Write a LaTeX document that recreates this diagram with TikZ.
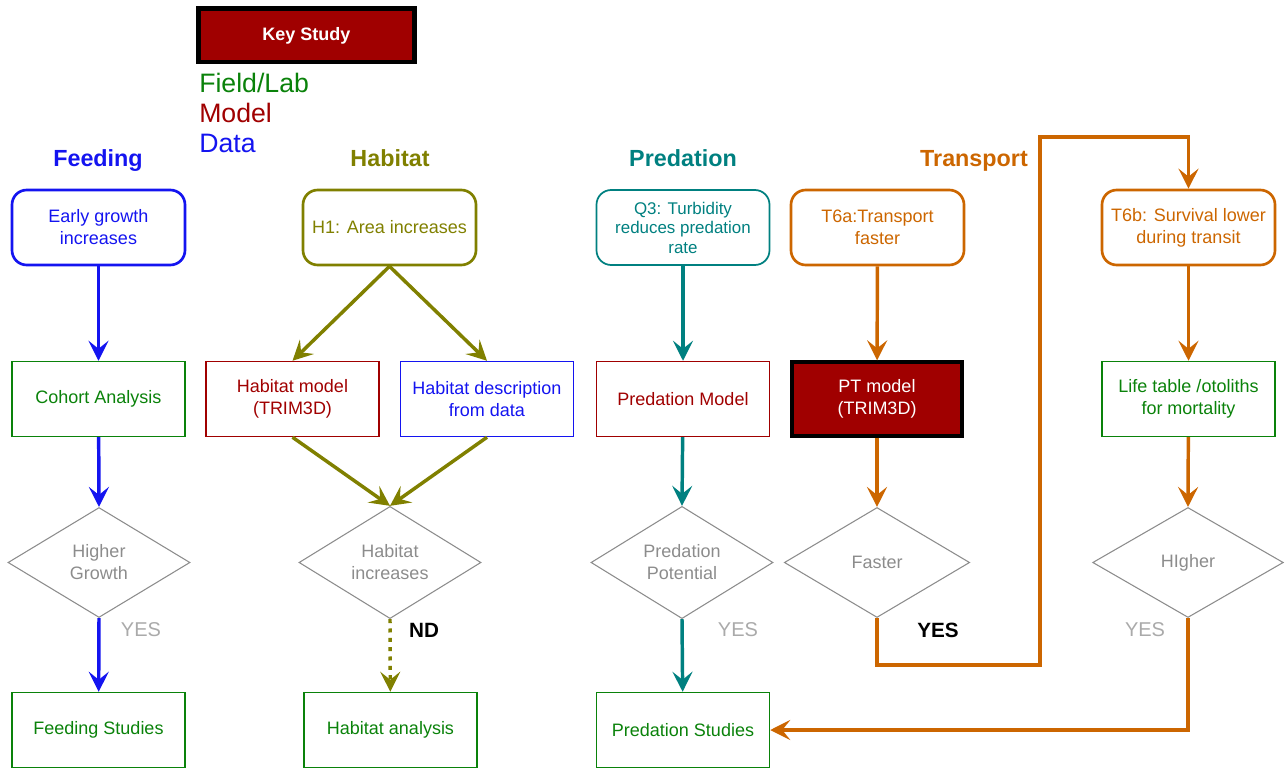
\documentclass[tikz,border=0pt]{standalone}
\usepackage{fontspec}
\setmainfont{Liberation Sans}
\usetikzlibrary{shapes.geometric,arrows.meta}
\definecolor{fblue}{RGB}{20,20,240}
\definecolor{olivec}{RGB}{128,128,0}
\definecolor{tealc}{RGB}{0,128,128}
\definecolor{orangec}{RGB}{204,102,0}
\definecolor{dred}{RGB}{160,0,0}
\definecolor{fgreen}{RGB}{10,130,10}
\definecolor{dgray}{RGB}{140,140,140}
\definecolor{lgray}{RGB}{170,170,170}
\tikzset{
  txt/.style={font=\fontsize{13.5}{16.5}\selectfont, align=center},
  rbox/.style={txt, draw=#1, text=#1, rounded corners=11pt, line width=2pt, minimum width=129.75pt, minimum height=56.25pt, inner sep=2pt},
  sbox/.style={txt, draw=#1, line width=1.1pt, minimum width=129.75pt, minimum height=56.25pt, inner sep=2pt},
  dec/.style={txt, diamond, draw=dgray, text=dgray, line width=0.8pt, minimum width=136.5pt, minimum height=82.5pt, inner sep=0pt},
  con/.style={draw=#1, line width=2.6pt, -{Stealth[length=15pt, width=15pt, inset=6pt]}},
  head/.style={font=\fontsize{17.5}{20}\selectfont\bfseries, text=#1, anchor=base},
  leg/.style={font=\fontsize{20}{22}\selectfont, text=#1, anchor=west, inner sep=0pt},
  yesg/.style={font=\fontsize{15}{18}\selectfont, text=lgray},
  yesb/.style={font=\fontsize{15.5}{18}\selectfont\bfseries, text=black},
}
\begin{document}
\begin{tikzpicture}[x=0.75pt,y=-0.75pt]
\useasboundingbox (0,0) rectangle (1286,770);
% key
\node[draw=black, line width=3.5pt, fill=dred, text=white, font=\fontsize{13.5}{15}\selectfont\bfseries, minimum width=162pt, minimum height=40pt] (key) at (306.5,35.5) {Key Study};
\node[leg=fgreen] (lfield) at (199,83) {Field/Lab};
\node[leg=dred] (lmodel) at (199,113) {Model};
\node[leg=fblue] (ldata) at (199,143) {Data};
% headings
\node[head=fblue] (hfeed) at (98,167) {Feeding};
\node[head=olivec] (hhab) at (390,167) {Habitat};
\node[head=tealc] (hpred) at (683,167) {Predation};
\node[head=orangec] (htrans) at (974,167) {Transport};
% feeding column
\node[rbox=fblue] (f1) at (98.5,227.5) {Early growth\\increases};
\node[sbox=fgreen, text=fgreen] (f2) at (98.5,399) {Cohort Analysis};
\node[dec] (fd) at (99,562.5) {Higher\\Growth};
\node[sbox=fgreen, text=fgreen] (f3) at (98.5,730) {Feeding Studies};
\node[yesg] (fyes) at (141,630) {YES};
\draw[con=fblue] (f1) -- (f2);
\draw[con=fblue] (f2) -- (fd.north);
\draw[con=fblue] (fd.south) -- (f3);
% habitat column
\node[rbox=olivec] (h1) at (389.5,227.5) {H1: Area increases};
\node[sbox=dred, text=dred] (h2) at (292.5,399) {Habitat model\\(TRIM3D)};
\node[sbox=fblue, text=fblue] (h3) at (487,399) {Habitat description\\from data};
\node[dec] (hd) at (390,562.5) {Habitat\\increases};
\node[sbox=fgreen, text=fgreen] (h4) at (390.5,730) {Habitat analysis};
\node[yesb] (nd) at (424,630) {ND};
\draw[con=olivec] (h1.south) -- (h2.north);
\draw[con=olivec] (h1.south) -- (h3.north);
\draw[con=olivec] (h2.south) -- (hd.north);
\draw[con=olivec] (h3.south) -- (hd.north);
\draw[con=olivec, dash pattern=on 3pt off 4pt] (hd.south) -- (h4);
% predation column
\node[rbox=tealc, line width=1.3pt, font=\fontsize{12.7}{14.6}\selectfont] (p1) at (683,227.5) {Q3: Turbidity\\reduces predation\\rate};
\node[sbox=dred, text=dred] (p2) at (683,399) {Predation Model};
\node[dec] (pd) at (682,562.5) {Predation\\Potential};
\node[sbox=fgreen, text=fgreen] (p3) at (683,730) {Predation Studies};
\node[yesg] (pyes) at (738,630) {YES};
\draw[con=tealc] (p1) -- (p2);
\draw[con=tealc] (p2) -- (pd.north);
\draw[con=tealc] (pd.south) -- (p3);
% transport column
\node[rbox=orangec] (t1) at (877.5,227.5) {T6a:Transport\\faster};
\node[txt, draw=black, line width=3pt, fill=dred, text=white, minimum width=128pt, minimum height=55pt] (t2) at (877,399) {PT model\\(TRIM3D)};
\node[dec, minimum width=139pt] (td) at (877,562.5) {Faster};
\node[yesb] (tyes) at (938,630) {YES};
\draw[con=orangec] (t1) -- (t2);
\draw[con=orangec] (t2) -- (td.north);
% second transport column
\node[rbox=orangec] (t6b) at (1188.5,227.5) {T6b: Survival lower\\during transit};
\node[sbox=fgreen, text=fgreen] (t6l) at (1188.5,399) {Life table /otoliths\\for mortality};
\node[dec, minimum width=143pt] (t6d) at (1188,562.5) {HIgher};
\node[yesg] (t6yes) at (1145,630) {YES};
\draw[con=orangec] (t6b) -- (t6l);
\draw[con=orangec] (t6l) -- (t6d.north);
\draw[con=orangec] (t6d.south) |- (p3.east);
\coordinate (r1) at (1040,665);
\coordinate (r2) at (1040,137);
\draw[con=orangec] (td.south) |- (r1) -- (r2) -| (t6b.north);
\end{tikzpicture}
\end{document}
